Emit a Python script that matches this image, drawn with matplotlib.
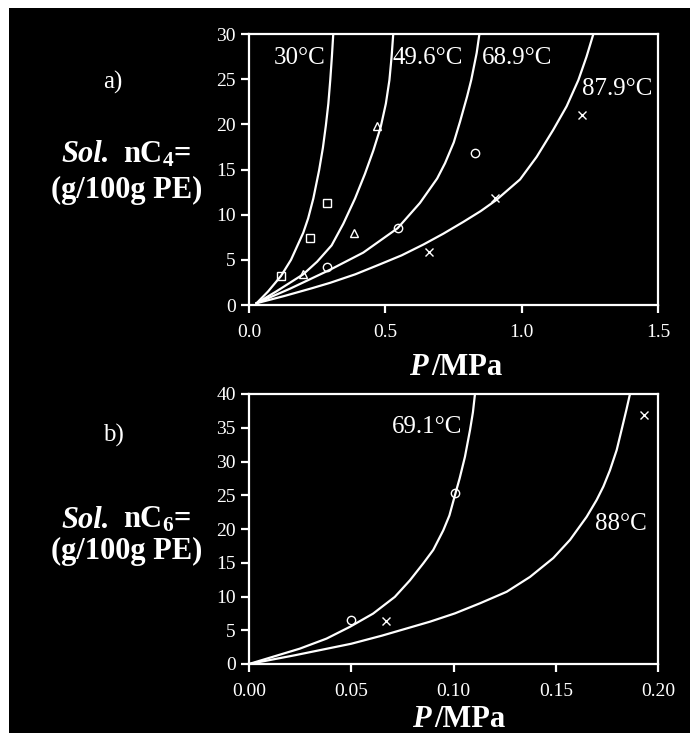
import matplotlib
matplotlib.use("Agg")
import matplotlib.pyplot as plt
from matplotlib.patches import Rectangle

plt.rcParams['font.family'] = ['Liberation Serif', 'DejaVu Serif']
plt.rcParams['mathtext.fontset'] = 'custom'
plt.rcParams['mathtext.rm'] = 'Liberation Serif'
plt.rcParams['mathtext.it'] = 'Liberation Serif:italic'
plt.rcParams['mathtext.bf'] = 'Liberation Serif:bold'

# ---- panel a: nC4 solubility ----
a_temps = ["30°C", "49.6°C", "68.9°C", "87.9°C"]
a_curve_p = [
    [0.028, 0.07, 0.117, 0.154, 0.199, 0.217, 0.236, 0.257, 0.271, 0.282,
     0.291, 0.298, 0.304, 0.309],
    [0.028, 0.10, 0.199, 0.25, 0.303, 0.346, 0.389, 0.425, 0.456, 0.483,
     0.502, 0.515, 0.523, 0.529],
    [0.028, 0.15, 0.297, 0.419, 0.545, 0.627, 0.69, 0.719, 0.751, 0.774,
     0.80, 0.815, 0.835, 0.845],
    [0.028, 0.13, 0.23, 0.297, 0.39, 0.48, 0.56, 0.64, 0.713, 0.786, 0.85,
     0.906, 0.994, 1.055, 1.116, 1.165, 1.208, 1.238, 1.263],
]
a_curve_s = [
    [0.2, 1.5, 3.2, 5.0, 8.0, 9.6, 11.8, 14.9, 17.4, 19.9, 22.3, 24.9, 27.5, 30.0],
    [0.2, 1.5, 3.4, 4.8, 6.6, 9.0, 11.8, 14.5, 17.1, 19.7, 22.3, 24.9, 27.5, 30.0],
    [0.2, 1.8, 3.9, 5.8, 8.5, 11.3, 14.0, 15.7, 18.0, 20.3, 23.1, 24.9, 27.9, 30.0],
    [0.2, 1.0, 1.85, 2.45, 3.4, 4.5, 5.5, 6.7, 7.9, 9.2, 10.4, 11.6, 13.9, 16.4,
     19.4, 22.0, 24.9, 27.5, 30.0],
]
a_pts_p = [[0.116, 0.225, 0.285], [0.198, 0.385, 0.468],
           [0.285, 0.545, 0.829], [0.661, 0.904, 1.223]]
a_pts_s = [[3.24, 7.37, 11.24], [3.43, 7.96, 19.83],
           [4.17, 8.51, 16.84], [5.86, 11.83, 21.0]]
a_markers = ['s', '^', 'o', 'x']
a_label_pos = [(0.187, 27.3), (0.655, 27.3), (0.982, 27.3), (1.35, 23.9)]

# ---- panel b: nC6 solubility ----
b_temps = ["69.1°C", "88°C"]
b_curve_p = [
    [0.0, 0.0248, 0.0379, 0.0493, 0.0607, 0.0713, 0.0787, 0.0852, 0.0901,
     0.095, 0.098, 0.1007, 0.1030, 0.1056, 0.1081, 0.1095, 0.1105],
    [0.0, 0.0225, 0.050, 0.065, 0.0885, 0.1007, 0.113, 0.126, 0.1374, 0.1488,
     0.157, 0.1651, 0.170, 0.1733, 0.1765, 0.1798, 0.1822, 0.1845, 0.1863],
]
b_curve_s = [
    [0.0, 2.27, 3.76, 5.5, 7.47, 9.94, 12.4, 14.9, 16.9, 19.8, 22.0, 25.0,
     27.5, 30.7, 34.7, 37.3, 40.0],
    [0.0, 1.3, 3.0, 4.2, 6.27, 7.5, 9.0, 10.7, 12.9, 15.7, 18.4, 21.8, 24.3,
     26.3, 28.7, 31.7, 34.7, 37.6, 40.0],
]
b_pts_p = [[0.0501, 0.1007], [0.0669, 0.193]]
b_pts_s = [[6.58, 25.27], [6.33, 36.9]]
b_markers = ['o', 'x']
b_label_pos = [(0.0873, 35.1), (0.1817, 20.7)]

fig = plt.figure(figsize=(6.9, 7.33), dpi=100, facecolor='white')
fig.patches.append(Rectangle((9 / 690, 0), 1, 1 - 8 / 733, transform=fig.transFigure,
                             facecolor='black', edgecolor='none', zorder=-10))

W = 'white'


def style_axes(ax):
    ax.set_facecolor('black')
    for sp in ax.spines.values():
        sp.set_color(W)
        sp.set_linewidth(1.6)
    ax.tick_params(colors=W, labelcolor=W, direction='out', width=1.6,
                   length=6, labelsize=14, top=False, right=False)


def fx(px):
    return px / 690


def fy(py):
    return 1 - py / 733


axa = fig.add_axes([fx(249), fy(305), 409 / 690, 271 / 733])
style_axes(axa)
for p, s in zip(a_curve_p, a_curve_s):
    axa.plot(p, s, color=W, lw=1.6)
for p, s, m in zip(a_pts_p, a_pts_s, a_markers):
    axa.plot(p, s, ls='none', marker=m, ms=6, mfc='none', mec=W, mew=1.0)
for t, (x, y) in zip(a_temps, a_label_pos):
    axa.text(x, y, t, color=W, fontsize=18, ha='center', va='center')
axa.set_xlim(0, 1.5)
axa.set_ylim(0, 30)
axa.set_xticks([0.0, 0.5, 1.0, 1.5])
axa.set_xticklabels(["0.0", "0.5", "1.0", "1.5"])
axa.set_yticks(range(0, 31, 5))
axa.tick_params(axis='x', pad=8)

axb = fig.add_axes([fx(249), fy(664), 409 / 690, 270 / 733])
style_axes(axb)
for p, s in zip(b_curve_p, b_curve_s):
    axb.plot(p, s, color=W, lw=1.6)
for p, s, m in zip(b_pts_p, b_pts_s, b_markers):
    axb.plot(p, s, ls='none', marker=m, ms=6, mfc='none', mec=W, mew=1.0)
for t, (x, y) in zip(b_temps, b_label_pos):
    axb.text(x, y, t, color=W, fontsize=18, ha='center', va='center')
axb.set_xlim(0, 0.2)
axb.set_ylim(0, 40)
axb.set_xticks([0.0, 0.05, 0.10, 0.15, 0.20])
axb.set_xticklabels(["0.00", "0.05", "0.10", "0.15", "0.20"])
axb.set_yticks(range(0, 41, 5))
axb.tick_params(axis='x', pad=8)

# x axis labels
for py, px in [(375, 428), (727, 431)]:
    fig.text(fx(px), fy(py), "P", color=W, fontsize=22, fontweight='bold',
             fontstyle='italic', ha='right', va='baseline')
    fig.text(fx(px + 3), fy(py), "/MPa", color=W, fontsize=22, fontweight='bold',
             ha='left', va='baseline')

# left labels
for py_tag, tag, py1, sub, py2 in [(82, "a)", 155, "4", 190), (435, "b)", 520, "6", 551)]:
    fig.text(fx(113), fy(py_tag), tag, color=W, fontsize=18, ha='center', va='center')
    fig.text(fx(110), fy(py1), "Sol.", color=W, fontsize=22, fontweight='bold',
             fontstyle='italic', ha='right', va='center')
    fig.text(fx(123), fy(py1), "nC$_\\mathbf{" + sub + "}$=", color=W, fontsize=22,
             fontweight='bold', ha='left', va='center')
    fig.text(fx(127), fy(py2), "(g/100g PE)", color=W, fontsize=22, fontweight='bold',
             ha='center', va='center')

fig.savefig("out.png", dpi=100, facecolor=fig.get_facecolor())
